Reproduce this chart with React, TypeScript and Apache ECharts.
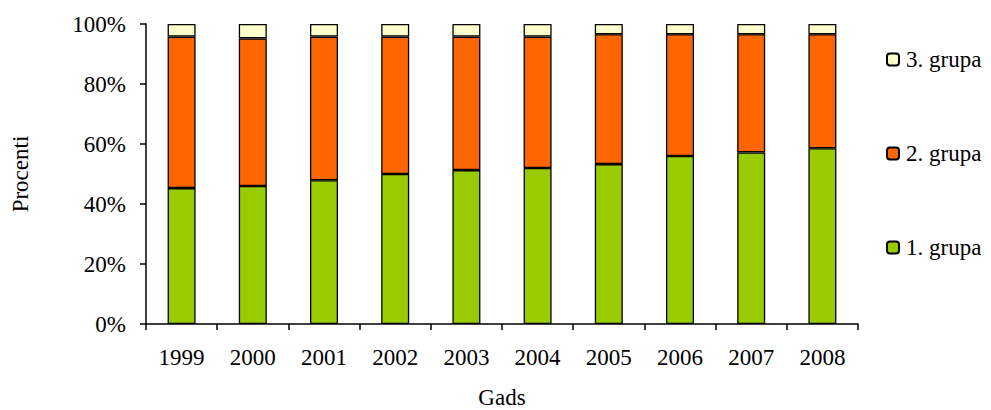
import React, { useEffect, useRef } from "react";
import * as echarts from "echarts";

const years = ["1999", "2000", "2001", "2002", "2003", "2004", "2005", "2006", "2007", "2008"];
const group1 = [45.3, 46.0, 47.9, 50.0, 51.3, 52.0, 53.3, 56.0, 57.2, 58.6];
const group3 = [4.2, 4.8, 4.2, 4.2, 4.2, 4.2, 3.4, 3.4, 3.4, 3.4];
const group2 = group1.map((g, i) => +(100 - g - group3[i]).toFixed(1));
const yTicks = [0, 20, 40, 60, 80, 100];

const FONT = "Liberation Serif";
const FS = 23;

export default function App() {
  const ref = useRef<HTMLDivElement>(null);
  useEffect(() => {
    const chart = echarts.init(ref.current!, null, { renderer: "svg" });
    const border = { borderColor: "#000", borderWidth: 1.3 };
    chart.setOption({
      animation: false,
      grid: { left: 146, right: 133, top: 24, bottom: 86 },
      legend: {
        orient: "vertical",
        left: 881,
        top: 43,
        itemGap: 71,
        itemWidth: 12,
        itemHeight: 12,
        data: ["3. grupa", "2. grupa", "1. grupa"],
        textStyle: { fontFamily: FONT, fontSize: FS, color: "#000", padding: [0, 0, 0, 2] },
      },
      xAxis: {
        type: "category",
        data: years,
        axisLine: { lineStyle: { color: "#000", width: 1.5 } },
        axisTick: { show: true, alignWithLabel: false, length: 6, lineStyle: { color: "#000", width: 1.5 } },
        axisLabel: { fontFamily: FONT, fontSize: FS, color: "#000", margin: 22 },
      },
      yAxis: {
        type: "value",
        min: 0,
        max: 100,
        interval: 20,
        name: "Procenti",
        nameLocation: "middle",
        nameGap: 114,
        nameTextStyle: { fontFamily: FONT, fontSize: FS, color: "#000" },
        axisLine: { show: true, lineStyle: { color: "#000", width: 1.5 } },
        axisTick: { show: true, length: 6, lineStyle: { color: "#000", width: 1.5 } },
        splitLine: { show: false },
        axisLabel: {
          fontFamily: FONT,
          fontSize: FS,
          color: "#000",
          margin: 20,
          formatter: (v: number) => (yTicks.includes(v) ? v + "%" : ""),
        },
      },
      graphic: [
        {
          type: "text",
          x: 502,
          y: 386,
          style: { text: "Gads", fontFamily: FONT, fontSize: FS, fill: "#000", align: "center" },
        },
      ],
      series: [
        {
          name: "1. grupa",
          type: "bar",
          stack: "s",
          barWidth: 28,
          data: group1,
          itemStyle: { color: "#99CC00", ...border },
        },
        {
          name: "2. grupa",
          type: "bar",
          stack: "s",
          barWidth: 28,
          data: group2,
          itemStyle: { color: "#FF6600", ...border },
        },
        {
          name: "3. grupa",
          type: "bar",
          stack: "s",
          barWidth: 28,
          data: group3,
          itemStyle: { color: "#FFFFCC", ...border },
        },
      ],
    });
    return () => chart.dispose();
  }, []);
  return <div ref={ref} style={{ width: 991, height: 410, position: "absolute", left: 0, top: 0 }} />;
}
